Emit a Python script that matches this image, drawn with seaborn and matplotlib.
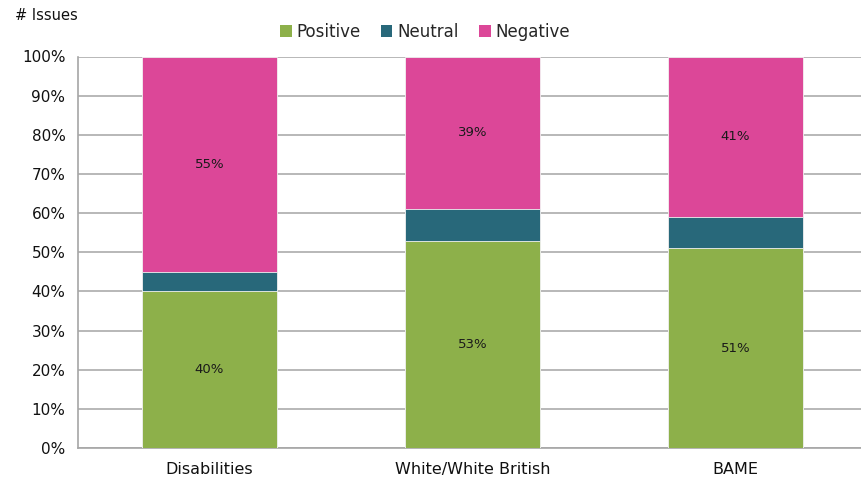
import matplotlib
matplotlib.use("Agg")
import matplotlib.pyplot as plt
from matplotlib.patches import Patch
import seaborn as sns
import pandas as pd

categories = ["Disabilities", "White/White British", "BAME"]
positive = [40, 53, 51]
neutral = [5, 8, 8]
negative = [55, 39, 41]
series_names = ["Positive", "Neutral", "Negative"]
colors = ["#8DB04A", "#28687A", "#DC4798"]
y_ticks = [0, 10, 20, 30, 40, 50, 60, 70, 80, 90, 100]

sns.set_theme(style="white")
plt.rcParams["font.family"] = ["DejaVu Sans"]

df = pd.DataFrame({
    "category": categories,
    "Positive": positive,
    "Neutral": neutral,
    "Negative": negative,
})
df["pos_neu"] = df["Positive"] + df["Neutral"]
df["total"] = df["pos_neu"] + df["Negative"]

W, H = 861, 484
fig = plt.figure(figsize=(W / 100, H / 100), dpi=100)
ax = fig.add_axes([78 / W, (H - 448) / H, 789 / W, 391.5 / H])

# stacked bars drawn back-to-front as cumulative heights
layers = [("total", colors[2]), ("pos_neu", colors[1]), ("Positive", colors[0])]
for col, c in layers:
    sns.barplot(data=df, x="category", y=col, order=categories, color=c,
                width=0.513, saturation=1, edgecolor="#f2f2f2", linewidth=0.6,
                ax=ax, zorder=3)

# value labels centred in the positive and negative segments
for i in range(len(categories)):
    ax.text(i, positive[i] / 2, f"{positive[i]}%", ha="center", va="center",
            fontsize=9.5, color="#1a1a1a", zorder=5)
    neg_mid = positive[i] + neutral[i] + negative[i] / 2
    ax.text(i, neg_mid, f"{negative[i]}%", ha="center", va="center",
            fontsize=9.5, color="#1a1a1a", zorder=5)

ax.set_xlim(-0.5, 2.5)
ax.set_ylim(0, 100)
ax.set_yticks(y_ticks)
ax.set_yticklabels([f"{t}%" for t in y_ticks])
ax.set_xlabel("")
ax.set_ylabel("")
ax.yaxis.grid(True, color="#ababab", linewidth=1.2, zorder=0)
ax.set_axisbelow(True)
for s in ["top", "right"]:
    ax.spines[s].set_visible(False)
for s in ["left", "bottom"]:
    ax.spines[s].set_color("#a6a6a6")
    ax.spines[s].set_linewidth(1.2)
ax.tick_params(axis="y", length=0, labelsize=11, colors="#111111", pad=9)
ax.tick_params(axis="x", length=0, labelsize=11.5, colors="#111111", pad=10)

handles = [Patch(facecolor=c, edgecolor="none") for c in colors]
fig.legend(handles, series_names, loc="center", bbox_to_anchor=(425 / W, 1 - 32 / H),
           ncol=3, frameon=False, fontsize=12, handlelength=0.7, handleheight=0.7,
           handletextpad=0.3, columnspacing=1.2)
fig.text(15 / W, 1 - 15 / H, "# Issues", ha="left", va="center", fontsize=10.5, color="#111111")

fig.savefig("out.png", dpi=100)
